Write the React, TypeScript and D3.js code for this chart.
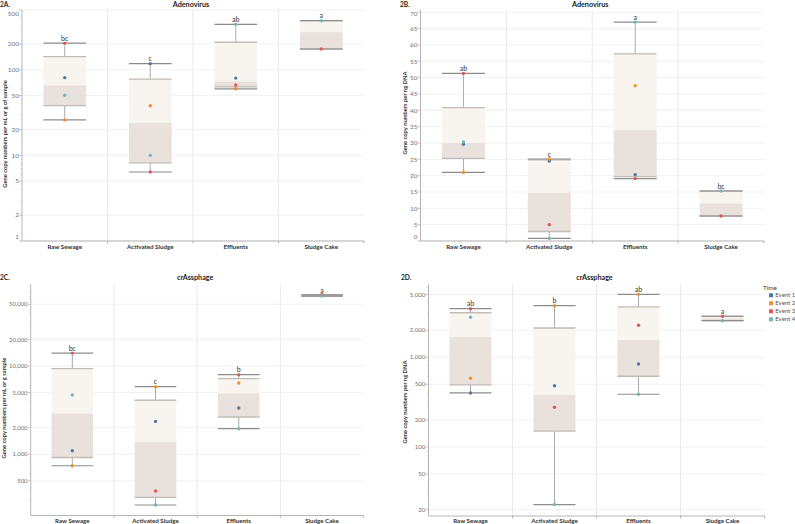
import React from "react";
import * as d3 from "d3";

const categories = ["Raw Sewage", "Activated Sludge", "Effluents", "Sludge Cake"];
const events = ["Event 1", "Event 2", "Event 3", "Event 4"];
const eventColors = ["#4e79a7", "#f28e2b", "#e15759", "#76b7b2"];

// values per category, ordered [Event 1, Event 2, Event 3, Event 4]
const adenoSampleValues: (number | null)[][] = [
  [81, 26, 205, 50.5],
  [118, 38, 6.4, 10],
  [80, 60, 66.5, 340],
  [null, null, 175, 375],
];
const adenoSampleLetters = ["bc", "c", "ab", "a"];
const adenoSampleTicks = [1, 2, 5, 10, 20, 50, 100, 200, 500];

const adenoDnaValues: (number | null)[][] = [
  [29.6, 21.0, 51.3, 30.3],
  [24.5, 25.1, 5.0, 0.8],
  [20.3, 47.5, 19.1, 67.0],
  [null, null, 7.65, 15.3],
];
const adenoDnaLetters = ["ab", "c", "a", "bc"];
const adenoDnaTicks = [0, 5, 10, 15, 20, 25, 30, 35, 40, 45, 50, 55, 60, 65, 70];

const crassSampleValues: (number | null)[][] = [
  [1100, 743, 14000, 4700],
  [2360, 5830, 384, 267],
  [3345, 6420, 7970, 1950],
  [null, null, 64000, 62000],
];
const crassSampleLetters = ["bc", "c", "b", "a"];
const crassSampleTicks = [500, 1000, 2000, 5000, 10000, 20000, 50000];

const crassDnaValues: (number | null)[][] = [
  [400, 583, 3480, 2790],
  [482, 3760, 277, 22.8],
  [842, 5030, 2275, 387],
  [null, null, 2865, 2558],
];
const crassDnaLetters = ["ab", "b", "ab", "a"];
const crassDnaTicks = [20, 50, 100, 200, 500, 1000, 2000, 5000];

const FONT = "Lato, 'Open Sans', sans-serif";

type PanelCfg = {
  tag: string;
  title: string;
  yTitle: string;
  values: (number | null)[][];
  letters: string[];
  ticks: number[];
  log: boolean;
  domain: [number, number];
  x0: number;
  x1: number;
  yTop: number;
  yBot: number;
  tagX: number;
  titleY: number;
  yTitleX: number;
  yTitleY: number;
  catY: number;
  tickFont: number;
};

function boxStats(vals: number[]) {
  const s = [...vals].sort((a, b) => a - b);
  const n = s.length;
  const half = Math.max(1, Math.floor(n / 2));
  const lower = s.slice(0, half);
  const upper = s.slice(n - half);
  return {
    min: s[0],
    q1: d3.median(lower) as number,
    med: d3.median(s) as number,
    q3: d3.median(upper) as number,
    max: s[n - 1],
  };
}

function Panel({ c }: { c: PanelCfg }) {
  const x = d3.scaleBand<string>().domain(categories).range([c.x0, c.x1]).padding(0);
  const y: any = c.log
    ? d3.scaleLog().domain(c.domain).range([c.yBot, c.yTop])
    : d3.scaleLinear().domain(c.domain).range([c.yBot, c.yTop]);
  const bw = x.bandwidth() * 0.5;
  const fmt = d3.format(",");

  const minor: number[] = [];
  if (c.log) {
    const lo = Math.floor(Math.log10(c.domain[0]));
    const hi = Math.ceil(Math.log10(c.domain[1]));
    for (let k = lo; k <= hi; k++) {
      for (let d = 1; d <= 9; d++) {
        const v = d * Math.pow(10, k);
        if (v >= c.domain[0] && v <= c.domain[1] && !c.ticks.includes(v)) minor.push(v);
      }
    }
  }

  return (
    <g>
      {c.ticks.map((t) => (
        <line key={"g" + t} x1={c.x0} x2={c.x1} y1={y(t)} y2={y(t)} stroke="#f1f1f1" strokeWidth={1} />
      ))}
      {categories.slice(1).map((cat) => (
        <line key={"s" + cat} x1={x(cat)} x2={x(cat)} y1={c.yTop} y2={c.yBot} stroke="#ebebeb" strokeWidth={1} />
      ))}
      <line x1={c.x0} x2={c.x0} y1={c.yTop} y2={c.yBot} stroke="#b5b5b5" strokeWidth={1} />
      <line x1={c.x0} x2={c.x1} y1={c.yBot} y2={c.yBot} stroke="#b5b5b5" strokeWidth={1} />
      {categories.slice(1).map((cat) => (
        <line key={"xt" + cat} x1={x(cat)} x2={x(cat)} y1={c.yBot} y2={c.yBot + 2.5} stroke="#b5b5b5" strokeWidth={1} />
      ))}
      <line x1={c.x1} x2={c.x1} y1={c.yBot} y2={c.yBot + 2.5} stroke="#b5b5b5" strokeWidth={1} />
      {minor.map((t) => (
        <line key={"m" + t} x1={c.x0 - 1.5} x2={c.x0} y1={y(t)} y2={y(t)} stroke="#c4c4c4" strokeWidth={0.8} />
      ))}
      {c.ticks.map((t) => {
        const ty = Math.min(Math.max(y(t), c.yTop + 4), c.yBot - 4);
        return (
          <g key={"t" + t}>
            <line x1={c.x0 - 3} x2={c.x0} y1={y(t)} y2={y(t)} stroke="#b5b5b5" strokeWidth={0.8} />
            <text x={c.x0 - 3.2} y={ty} dy="0.35em" textAnchor="end" fontSize={c.tickFont} fill="#707070" fontFamily={FONT}>
              {fmt(t)}
            </text>
          </g>
        );
      })}
      {categories.map((cat) => (
        <text key={"c" + cat} x={(x(cat) as number) + x.bandwidth() / 2} y={c.catY} textAnchor="middle" fontSize={6.2} fontWeight="bold" fill="#333" fontFamily={FONT}>
          {cat}
        </text>
      ))}
      <text x={c.tagX} y={c.titleY} fontSize={6.6} fontWeight="bold" fill="#222" fontFamily={FONT}>
        {c.tag}
      </text>
      <text x={(c.x0 + c.x1) / 2 - 2} y={c.titleY} textAnchor="middle" fontSize={7.2} fontWeight="bold" fill="#222" fontFamily={FONT}>
        {c.title}
      </text>
      <text
        transform={`translate(${c.yTitleX},${c.yTitleY}) rotate(-90)`}
        textAnchor="middle"
        dy="0.35em"
        fontSize={5.8}
        fontWeight="bold"
        fill="#333"
        fontFamily={FONT}
      >
        {c.yTitle}
      </text>
      {categories.map((cat, i) => {
        const vals = c.values[i].filter((v) => v !== null) as number[];
        const st = boxStats(vals);
        const cx = (x(cat) as number) + x.bandwidth() / 2;
        const l = cx - bw / 2;
        const r = cx + bw / 2;
        return (
          <g key={"b" + cat}>
            <line x1={cx} x2={cx} y1={y(st.max)} y2={y(st.q3)} stroke="#a0a0a0" strokeWidth={0.9} />
            <line x1={cx} x2={cx} y1={y(st.q1)} y2={y(st.min)} stroke="#a0a0a0" strokeWidth={0.9} />
            <rect x={l} y={y(st.q3)} width={bw} height={y(st.med) - y(st.q3)} fill="#f8f4ef" />
            <rect x={l} y={y(st.med)} width={bw} height={y(st.q1) - y(st.med)} fill="#e8e1dc" />
            <line x1={l} x2={r} y1={y(st.q3)} y2={y(st.q3)} stroke="#c2bbb6" strokeWidth={1.3} />
            <line x1={l} x2={r} y1={y(st.q1)} y2={y(st.q1)} stroke="#c2bbb6" strokeWidth={1.3} />
            <line x1={l} x2={r} y1={y(st.max)} y2={y(st.max)} stroke="#8c8c8c" strokeWidth={1.2} />
            <line x1={l} x2={r} y1={y(st.min)} y2={y(st.min)} stroke="#8c8c8c" strokeWidth={1.2} />
            {c.values[i].map((v, j) =>
              v === null ? null : <circle key={j} cx={cx} cy={y(v)} r={1.7} fill={eventColors[j]} />
            )}
            <text x={cx} y={y(st.max) - 2.3} textAnchor="middle" fontSize={7} fill="#333" fontFamily={FONT}>
              {c.letters[i]}
            </text>
          </g>
        );
      })}
    </g>
  );
}

const panels: PanelCfg[] = [
  {
    tag: "2A.", title: "Adenovirus", yTitle: "Gene copy numbers per mL or g of sample",
    values: adenoSampleValues, letters: adenoSampleLetters, ticks: adenoSampleTicks,
    log: true, domain: [1, 500], x0: 22, x1: 364, yTop: 10, yBot: 241,
    tagX: 0, titleY: 7, yTitleX: 5, yTitleY: 134, catY: 248.5, tickFont: 6.3,
  },
  {
    tag: "2B.", title: "Adenovirus", yTitle: "Gene copy numbers per ng DNA",
    values: adenoDnaValues, letters: adenoDnaLetters, ticks: adenoDnaTicks,
    log: false, domain: [0, 70.7], x0: 420.5, x1: 764, yTop: 10, yBot: 241,
    tagX: 400, titleY: 7, yTitleX: 405, yTitleY: 113, catY: 248.5, tickFont: 6.3,
  },
  {
    tag: "2C.", title: "crAssphage", yTitle: "Gene copy numbers per mL or g sample",
    values: crassSampleValues, letters: crassSampleLetters, ticks: crassSampleTicks,
    log: true, domain: [203, 84200], x0: 30.7, x1: 363.6, yTop: 284.3, yBot: 515.5,
    tagX: 0, titleY: 279.5, yTitleX: 4.2, yTitleY: 408, catY: 522.5, tickFont: 5.9,
  },
  {
    tag: "2D.", title: "crAssphage", yTitle: "Gene copy numbers per ng DNA",
    values: crassDnaValues, letters: crassDnaLetters, ticks: crassDnaTicks,
    log: true, domain: [17, 6560], x0: 428.5, x1: 764.5, yTop: 284, yBot: 516,
    tagX: 401, titleY: 279.8, yTitleX: 405, yTitleY: 402, catY: 522.5, tickFont: 6.1,
  },
];

export default function App() {
  return (
    <svg width={795} height={524} style={{ position: "absolute", left: 0, top: 0, background: "#fff" }}>
      <rect width={795} height={524} fill="#fff" />
      {panels.map((p) => (
        <Panel key={p.tag} c={p} />
      ))}
      <g>
        <text x={763} y={290.3} fontSize={6.4} fill="#333" fontFamily={FONT}>Time</text>
        {events.map((e, i) => (
          <g key={e}>
            <rect x={769} y={293.3 + i * 8} width={4} height={4} fill={eventColors[i]} />
            <text x={775.3} y={295.3 + i * 8} dy="0.35em" fontSize={6} fill="#555" fontFamily={FONT}>{e}</text>
          </g>
        ))}
      </g>
    </svg>
  );
}
